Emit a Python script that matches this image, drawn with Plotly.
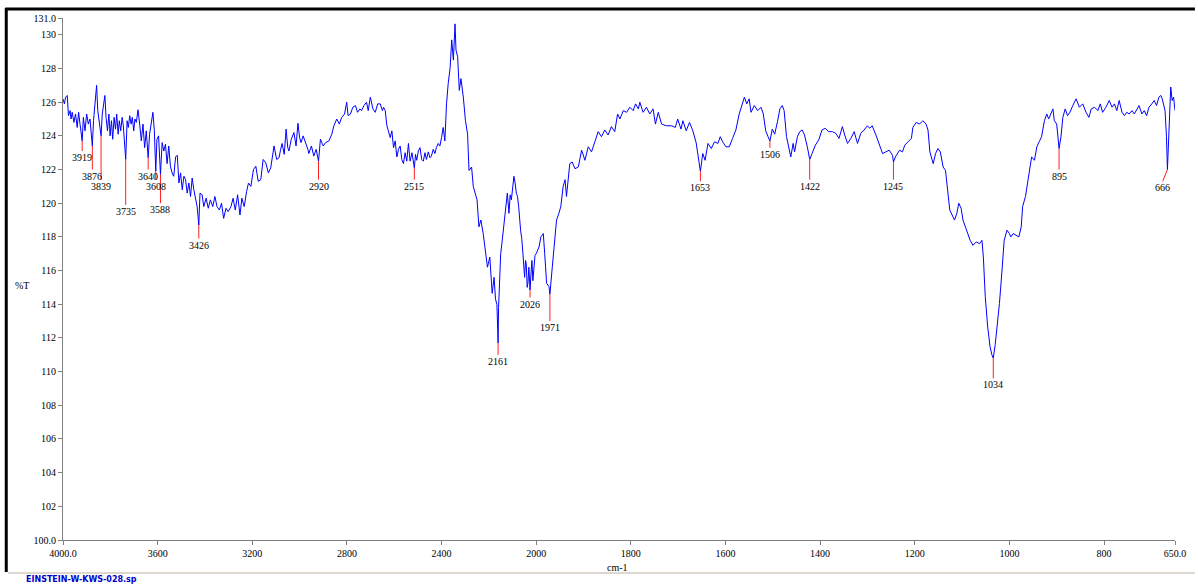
import plotly.graph_objects as go

# ---- spectrum data (wavenumber cm-1, %T) ----
wavenumber = [
    4000, 3994, 3989, 3982, 3977, 3970, 3966, 3961, 3954, 3947, 3940, 3934, 3928, 3919, 3914, 3907, 3900, 3893, 3886, 3876,
    3871, 3864, 3858, 3853, 3847, 3839, 3834, 3829, 3823, 3818, 3812, 3806, 3801, 3795, 3790, 3784, 3778, 3773, 3767, 3762,
    3756, 3750, 3745, 3735, 3729, 3724, 3718, 3712, 3707, 3701, 3696, 3690, 3683, 3676, 3669, 3662, 3655, 3648, 3640, 3634,
    3627, 3620, 3614, 3608, 3603, 3596, 3588, 3581, 3574, 3567, 3560, 3553, 3546, 3539, 3532, 3524, 3517, 3510, 3503, 3496,
    3489, 3482, 3475, 3468, 3461, 3454, 3447, 3440, 3433, 3426, 3421, 3412, 3405, 3395, 3386, 3377, 3367, 3358, 3349, 3339,
    3330, 3321, 3311, 3302, 3290, 3281, 3272, 3262, 3252, 3244, 3234, 3224, 3216, 3206, 3195, 3185, 3175, 3164, 3154, 3143,
    3132, 3122, 3115, 3108, 3097, 3087, 3080, 3074, 3065, 3057, 3050, 3045, 3035, 3024, 3015, 3007, 3000, 2994, 2985, 2973,
    2965, 2961, 2950, 2940, 2930, 2920, 2912, 2900, 2890, 2876, 2864, 2855, 2843, 2832, 2822, 2810, 2801, 2795, 2785, 2775,
    2764, 2755, 2745, 2738, 2728, 2717, 2710, 2701, 2690, 2680, 2670, 2659, 2650, 2645, 2638, 2631, 2617, 2610, 2603, 2596,
    2589, 2582, 2575, 2568, 2561, 2554, 2547, 2540, 2533, 2525, 2515, 2510, 2505, 2498, 2491, 2484, 2477, 2470, 2464, 2456,
    2449, 2443, 2435, 2428, 2422, 2414, 2407, 2400, 2393, 2386, 2379, 2372, 2364, 2357, 2350, 2343, 2339, 2332, 2325, 2318,
    2308, 2299, 2290, 2284, 2273, 2266, 2257, 2250, 2242, 2234, 2224, 2217, 2206, 2196, 2186, 2178, 2172, 2166, 2163, 2161,
    2159, 2156, 2150, 2145, 2140, 2133, 2127, 2122, 2115, 2110, 2105, 2100, 2094, 2089, 2084, 2079, 2074, 2066, 2061, 2056,
    2049, 2045, 2042, 2038, 2035, 2031, 2026, 2022, 2018, 2014, 2010, 2005, 2000, 1994, 1990, 1985, 1982, 1978, 1973, 1971,
    1966, 1962, 1957, 1952, 1948, 1943, 1939, 1936, 1929, 1924, 1918, 1911, 1904, 1897, 1890, 1883, 1876, 1869, 1862, 1855,
    1848, 1841, 1834, 1828, 1823, 1816, 1809, 1802, 1795, 1790, 1784, 1781, 1774, 1767, 1760, 1753, 1748, 1742, 1735, 1725,
    1714, 1706, 1701, 1694, 1690, 1683, 1676, 1669, 1662, 1657, 1653, 1648, 1643, 1637, 1630, 1623, 1616, 1611, 1606, 1599,
    1592, 1585, 1578, 1571, 1566, 1560, 1555, 1550, 1546, 1539, 1532, 1525, 1520, 1515, 1510, 1506, 1501, 1496, 1490, 1485,
    1480, 1476, 1471, 1466, 1462, 1457, 1454, 1448, 1443, 1438, 1433, 1427, 1422, 1417, 1410, 1403, 1396, 1389, 1382, 1374,
    1367, 1360, 1353, 1348, 1342, 1335, 1328, 1321, 1314, 1307, 1300, 1295, 1290, 1282, 1275, 1268, 1261, 1254, 1247, 1245,
    1240, 1232, 1226, 1221, 1214, 1207, 1204, 1197, 1190, 1183, 1176, 1172, 1168, 1165, 1161, 1156, 1151, 1146, 1140, 1135,
    1130, 1126, 1121, 1116, 1111, 1107, 1102, 1098, 1093, 1088, 1083, 1077, 1070, 1063, 1058, 1055, 1051, 1046, 1041, 1037,
    1034, 1030, 1027, 1021, 1016, 1011, 1005, 1000, 997, 992, 986, 980, 975, 972, 966, 961, 958, 953, 947, 942,
    937, 932, 926, 921, 917, 912, 908, 905, 900, 895, 891, 887, 882, 877, 872, 866, 859, 852, 845, 838,
    832, 827, 820, 813, 808, 803, 796, 789, 783, 778, 773, 768, 762, 757, 752, 747, 741, 736, 731, 726,
    720, 715, 710, 705, 699, 694, 689, 684, 680, 677, 671, 668, 666, 663, 659, 656, 653, 650,
]
transmittance = [
    126.2, 125.9, 126.3, 126.4, 125.2, 125.5, 125.0, 125.4, 124.8, 125.3, 124.5, 125.4, 124.7, 123.7, 125.1, 124.3, 125.3, 124.7, 125.0, 123.4,
    124.9, 126.1, 127.0, 125.5, 124.7, 124.0, 125.3, 125.8, 126.4, 125.1, 124.3, 125.3, 124.0, 124.9, 123.8, 125.1, 124.4, 125.3, 124.1, 124.9,
    124.3, 125.1, 124.6, 122.6, 124.9, 124.5, 125.2, 124.7, 125.1, 124.3, 125.0, 124.8, 125.55, 124.7, 123.7, 124.7, 123.3, 124.3, 122.7, 124.1,
    124.8, 125.4, 124.3, 121.9, 123.8, 124.0, 121.7, 123.6, 123.1, 123.5, 122.35, 123.4, 122.2, 121.8, 121.6, 122.75, 122.85, 121.2, 121.8, 120.8,
    121.6, 121.4, 120.6, 121.2, 120.4, 121.5, 120.8, 120.2, 119.8, 118.7, 120.6, 120.5, 119.8, 120.3, 119.7, 120.2, 119.8, 120.4, 119.8, 119.6,
    120.0, 119.1, 119.7, 119.5, 119.8, 120.3, 119.6, 120.5, 119.3, 120.3, 119.8, 120.7, 121.2, 121.0, 122.0, 122.2, 121.3, 121.4, 122.6, 122.4,
    121.8, 122.1, 122.8, 123.4, 122.6, 122.7, 123.2, 123.55, 122.9, 124.4, 123.3, 123.1, 123.8, 124.2, 123.4, 124.75, 123.9, 123.6, 124.0, 123.55,
    123.2, 122.95, 123.4, 122.8, 123.2, 122.5, 123.8, 123.4, 123.6, 123.7, 124.1, 124.6, 125.0, 124.7, 125.1, 125.3, 126.0, 125.2, 125.3, 125.7,
    125.8, 125.4, 125.6, 125.5, 125.8, 126.0, 125.5, 126.3, 125.6, 125.4, 125.9, 125.9, 125.5, 125.7, 125.5, 124.6, 123.9, 124.3, 123.3, 123.7,
    122.75, 123.2, 123.4, 122.6, 122.35, 123.0, 122.5, 123.55, 122.5, 123.0, 122.1, 122.9, 122.55, 123.1, 123.3, 122.6, 122.5, 123.0, 122.6, 123.05,
    122.7, 122.8, 123.2, 122.95, 123.3, 123.55, 123.4, 123.9, 124.5, 123.7, 125.9, 127.1, 128.0, 129.7, 128.5, 130.65, 129.1, 128.7, 126.7, 127.4,
    126.3, 124.9, 124.1, 121.95, 122.15, 121.0, 120.6, 120.2, 118.6, 119.0, 118.2, 117.4, 116.2, 116.8, 114.65, 115.6, 114.3, 114.0, 112.5, 111.7,
    113.8, 115.0, 117.0, 117.6, 118.2, 119.4, 119.8, 120.6, 119.4, 120.5, 120.2, 121.0, 121.6, 121.2, 120.6, 120.4, 119.8, 118.4, 117.9, 117.0,
    115.6, 116.6, 116.4, 115.0, 115.25, 116.2, 114.85, 115.8, 116.6, 115.4, 116.0, 116.9, 117.0, 117.4, 118.0, 118.2, 117.0, 115.25, 115.05, 114.6,
    116.2, 117.4, 119.0, 119.4, 119.8, 121.0, 121.4, 120.4, 122.35, 122.45, 122.05, 122.15, 123.15, 122.55, 123.35, 123.05, 123.65, 124.25, 123.95, 124.35,
    124.05, 124.55, 124.25, 125.3, 125.0, 125.5, 125.4, 125.7, 125.5, 125.9, 125.6, 126.0, 125.4, 125.7, 125.3, 125.6, 124.7, 125.4, 124.7, 124.6,
    124.6, 124.5, 125.0, 124.4, 124.9, 124.3, 124.8, 124.3, 123.6, 122.75, 121.9, 122.95, 122.55, 123.55, 123.25, 123.65, 123.55, 123.95, 123.65, 123.35,
    123.35, 123.85, 124.35, 125.3, 125.7, 126.3, 125.9, 126.2, 125.4, 125.8, 125.5, 125.7, 125.3, 124.3, 123.95, 123.7, 124.4, 124.1, 124.85, 125.6,
    125.8, 125.5, 123.95, 123.15, 122.75, 123.55, 123.05, 123.95, 124.25, 124.35, 124.05, 123.35, 122.6, 122.95, 123.45, 123.75, 124.35, 124.45, 124.25, 124.25,
    124.15, 123.85, 124.55, 124.05, 123.55, 123.85, 124.25, 123.55, 124.15, 124.35, 124.6, 124.45, 124.6, 124.05, 123.55, 122.95, 123.05, 123.15, 122.85, 122.45,
    122.8, 123.15, 123.05, 123.45, 123.65, 123.85, 124.5, 124.8, 124.7, 124.9, 124.7, 124.35, 123.05, 122.75, 122.35, 122.95, 123.25, 123.05, 122.15, 121.95,
    120.75, 119.6, 119.3, 119.0, 119.4, 120.0, 119.7, 119.0, 118.6, 118.2, 117.8, 117.5, 117.7, 117.6, 117.8, 116.8, 114.45, 112.7, 111.5, 111.0,
    110.8, 111.6, 112.3, 114.05, 115.85, 117.8, 118.4, 118.2, 118.0, 118.2, 118.1, 118.0, 118.6, 119.8, 120.4, 121.4, 122.0, 122.75, 122.55, 123.35,
    123.65, 123.95, 124.9, 125.3, 125.0, 125.4, 125.6, 124.9, 124.7, 123.25, 123.95, 125.1, 125.6, 125.2, 125.4, 125.8, 126.2, 125.7, 125.9, 125.4,
    125.1, 125.6, 125.7, 125.5, 125.9, 125.4, 125.7, 126.1, 125.7, 125.9, 125.5, 126.1, 125.4, 125.2, 125.4, 125.3, 125.5, 125.3, 125.6, 125.8,
    125.3, 125.5, 125.2, 125.7, 125.9, 126.1, 125.8, 126.3, 126.4, 126.2, 125.5, 123.95, 122.0, 123.95, 126.9, 126.1, 126.3, 125.5,
]

# ---- labelled peaks ----
peak_wn = [3919, 3876, 3839, 3735, 3640, 3608, 3588, 3426, 2920, 2515, 2161, 2026, 1971, 1653, 1506, 1422, 1245, 1034, 895, 666]
peak_T = [123.7, 123.4, 124.0, 122.6, 122.7, 121.9, 121.7, 118.7, 122.5, 122.1, 111.7, 114.85, 114.6, 121.9, 123.7, 122.6, 122.45, 110.8, 123.25, 122.0]
label_T = [123.1, 122.0, 121.4, 119.9, 122.0, 121.4, 120.0, 117.9, 121.4, 121.4, 111.0, 114.4, 113.0, 121.3, 123.3, 121.4, 121.4, 109.6, 122.0, 121.3]
label_wn = [3919, 3876, 3839, 3735, 3640, 3608, 3588, 3426, 2920, 2515, 2161, 2026, 1971, 1653, 1506, 1422, 1245, 1034, 895, 676]

# ---- axis ticks ----
x_ticks = [4000, 3600, 3200, 2800, 2400, 2000, 1800, 1600, 1400, 1200, 1000, 800, 650]
x_ticktext = ["4000.0", "3600", "3200", "2800", "2400", "2000", "1800", "1600", "1400", "1200", "1000", "800", "650.0"]
y_ticks = [100, 102, 104, 106, 108, 110, 112, 114, 116, 118, 120, 122, 124, 126, 128, 130, 131]
y_ticktext = ["100.0", "102", "104", "106", "108", "110", "112", "114", "116", "118", "120", "122", "124", "126", "128", "130", "131.0"]


def to_u(w):
    # instrument scale: 4000-2000 compressed by 2x relative to 2000-650
    return w if w <= 2000 else 2000 + (w - 2000) / 2.0


W, H = 1198, 585
ML, MR, MT, MB = 63, 18, 17, 45
PW, PH = W - ML - MR, H - MT - MB


def px(x):
    return (x - ML) / PW


def py(y):
    return (H - MB - y) / PH


SERIF = "Liberation Serif"

fig = go.Figure()
fig.add_trace(go.Scatter(
    x=[to_u(w) for w in wavenumber], y=transmittance, mode="lines",
    line=dict(color="#0000ff", width=1), hoverinfo="skip", showlegend=False))

# red peak marker lines
lx, ly = [], []
for w, t, lw, lt in zip(peak_wn, peak_T, label_wn, label_T):
    lx += [to_u(w), to_u(lw), None]
    ly += [t, lt, None]
fig.add_trace(go.Scatter(x=lx, y=ly, mode="lines", line=dict(color="#ff2020", width=1),
                         hoverinfo="skip", showlegend=False))

annotations = []
for w, lw, lt in zip(peak_wn, label_wn, label_T):
    annotations.append(dict(x=to_u(lw), y=lt, xref="x", yref="y", text=str(w), showarrow=False,
                            xanchor="center", yanchor="top", yshift=1,
                            font=dict(family=SERIF, size=10, color="black")))
annotations.append(dict(x=px(22), y=py(285), xref="paper", yref="paper", text="%T", showarrow=False,
                        xanchor="center", yanchor="middle", font=dict(family=SERIF, size=10, color="black")))
annotations.append(dict(x=px(620), y=py(568), xref="paper", yref="paper", text="cm-1", showarrow=False,
                        xanchor="center", yanchor="middle", font=dict(family=SERIF, size=10, color="black")))
annotations.append(dict(x=px(24), y=py(580), xref="paper", yref="paper", text="<b>EINSTEIN-W-KWS-028.sp</b>",
                        showarrow=False, xanchor="left", yanchor="middle",
                        font=dict(family="DejaVu Sans", size=8, color="#0000cc")))

shapes = [
    # window frame: thick black left and top edges
    dict(type="line", xref="paper", yref="paper", x0=px(6), x1=px(6), y0=py(7), y1=py(572),
         line=dict(color="black", width=3)),
    dict(type="line", xref="paper", yref="paper", x0=px(5), x1=px(W + 2), y0=py(8), y1=py(8),
         line=dict(color="black", width=3)),
    # footer panel separator
    dict(type="line", xref="paper", yref="paper", x0=px(8), x1=px(W + 2), y0=py(573), y1=py(573),
         line=dict(color="#dcd8d0", width=2)),
]

fig.update_layout(
    width=W, height=H,
    margin=dict(l=ML, r=MR, t=MT, b=MB, pad=0),
    paper_bgcolor="white", plot_bgcolor="white",
    showlegend=False,
    hovermode=False,
    annotations=annotations,
    shapes=shapes,
    xaxis=dict(range=[to_u(4000), to_u(650)], tickvals=[to_u(v) for v in x_ticks], ticktext=x_ticktext,
               showgrid=False, zeroline=False, showline=True, linecolor="#808080", linewidth=1,
               ticks="outside", ticklen=4, tickcolor="#808080",
               tickfont=dict(family=SERIF, size=10, color="black")),
    yaxis=dict(range=[100, 131], tickvals=y_ticks, ticktext=y_ticktext,
               showgrid=False, zeroline=False, showline=True, linecolor="#808080", linewidth=1,
               ticks="outside", ticklen=4, tickcolor="#808080",
               tickfont=dict(family=SERIF, size=10, color="black")),
)

assert len(wavenumber) == len(transmittance)
fig.write_html("out.html", config={"displayModeBar": False},
               post_script="document.body.style.margin='0';document.body.style.overflow='hidden';")
